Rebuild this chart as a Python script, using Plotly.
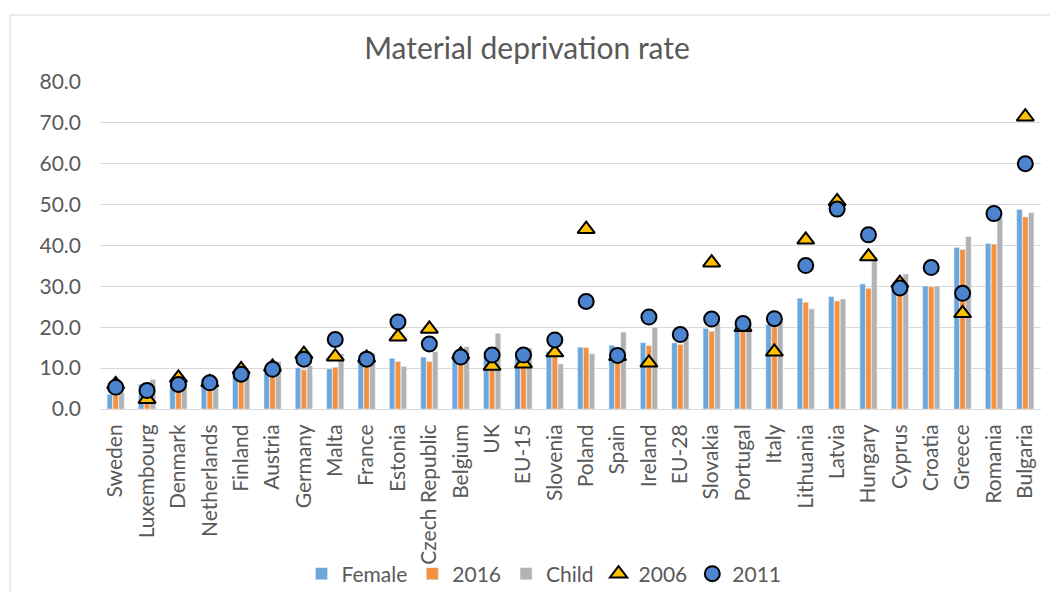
import plotly.graph_objects as go

countries = ["Sweden", "Luxembourg", "Denmark", "Netherlands", "Finland", "Austria", "Germany",
             "Malta", "France", "Estonia", "Czech Republic", "Belgium", "UK", "EU-15", "Slovenia",
             "Poland", "Spain", "Ireland", "EU-28", "Slovakia", "Portugal", "Italy", "Lithuania",
             "Latvia", "Hungary", "Cyprus", "Croatia", "Greece", "Romania", "Bulgaria"]

female = [3.6, 6.1, 6.7, 7.4, 8.4, 8.8, 10.1, 9.8, 11.6, 12.4, 12.7, 12.9, 12.7, 13.3, 14.0,
          15.1, 15.6, 16.2, 16.2, 19.7, 20.1, 20.7, 27.1, 27.5, 30.6, 29.0, 30.1, 39.5, 40.5, 48.8]

total_2016 = [3.3, 5.8, 6.4, 7.0, 8.0, 8.6, 9.6, 10.2, 10.4, 11.6, 11.6, 12.5, 12.3, 12.9, 13.8,
              15.0, 14.8, 15.5, 15.8, 19.0, 19.5, 20.1, 26.1, 26.4, 29.5, 28.6, 29.9, 39.0, 40.3, 47.0]

child = [4.0, 7.2, 6.9, 7.4, 8.8, 11.6, 10.6, 13.5, 13.7, 10.4, 14.0, 15.2, 18.5, 14.9, 11.0,
         13.5, 18.8, 20.0, 17.6, 21.0, 20.6, 21.5, 24.5, 26.9, 37.2, 33.0, 30.1, 42.2, 46.7, 48.0]

rate_2006 = [6.0, 2.4, 7.6, 6.5, 9.7, 10.3, 13.4, 12.8, 12.5, 17.7, 19.6, 13.3, 10.5, 11.1, 13.8,
             44.0, 12.9, 11.3, None, 35.8, 20.0, 14.0, 41.4, 50.8, 37.3, 30.8, None, 23.4, None, 71.5]

rate_2011 = [5.3, 4.5, 6.0, 6.4, 8.5, 9.7, 12.2, 17.0, 12.2, 21.3, 15.9, 12.7, 13.2, 13.2, 16.9,
             26.3, 13.1, 22.5, 18.2, 22.0, 20.9, 22.1, 35.1, 48.9, 42.6, 29.6, 34.6, 28.3, 47.8, 60.0]

y_ticks = [0, 10, 20, 30, 40, 50, 60, 70, 80]

FONT = "Lato, 'Open Sans', sans-serif"
TXT = "#595959"

fig = go.Figure()
fig.add_trace(go.Bar(name="Female", x=countries, y=female, marker_color="#6CA6DA"))
fig.add_trace(go.Bar(name="2016", x=countries, y=total_2016, marker_color="#F5913E"))
fig.add_trace(go.Bar(name="Child", x=countries, y=child, marker_color="#B2B2B2"))
fig.add_trace(go.Scatter(name="2006", x=countries, y=rate_2006, mode="markers",
                         marker=dict(symbol="triangle-up", size=15, color="#FFC000",
                                     line=dict(color="#000000", width=2))))
fig.add_trace(go.Scatter(name="2011", x=countries, y=rate_2011, mode="markers",
                         marker=dict(symbol="circle", size=15, color="#4D84D0",
                                     line=dict(color="#000000", width=2))))

# figure is offset by the page's 8px body margin; work in figure pixels
W, H = 1050, 584
L, R, T, B = 92, 17, 74, 183
pw, ph = W - L - R, H - T - B

def px_x(p):
    return (p - L) / pw

def px_y(p):
    return (H - B - p) / ph

fig.update_layout(
    width=W, height=H,
    margin=dict(l=L, r=R, t=T, b=B, autoexpand=False),
    paper_bgcolor="white", plot_bgcolor="white",
    font=dict(family=FONT, size=21, color=TXT),
    title=dict(text="Material deprivation rate", x=519 / W, xanchor="center",
               xref="container",
               y=1 - 40 / H, yanchor="middle",
               font=dict(family=FONT, size=30, color=TXT)),
    barmode="group", bargap=0.44, bargroupgap=0.08,
    showlegend=True,
    legend=dict(orientation="h", x=px_x(536), xanchor="center", y=px_y(566), yanchor="middle",
                font=dict(family=FONT, size=21, color=TXT), itemwidth=30,
                bgcolor="rgba(0,0,0,0)"),
    xaxis=dict(range=[-0.5, len(countries) - 0.5], autorange=False, automargin=False,
               showgrid=False, showline=True, linecolor="#D9D9D9", linewidth=1,
               tickangle=-90, ticks="", ticklabelstandoff=6,
               tickfont=dict(family=FONT, size=21, color=TXT)),
    yaxis=dict(range=[0, 80], tickvals=y_ticks, tickformat=".1f", showgrid=True,
               automargin=False,
               gridcolor="#D9D9D9", gridwidth=1, zeroline=False, showline=False,
               ticks="", ticklabelstandoff=18,
               tickfont=dict(family=FONT, size=21, color=TXT)),
    shapes=[dict(type="rect", xref="paper", yref="paper",
                 x0=px_x(2), x1=px_x(1080), y0=px_y(7), y1=px_y(620),
                 line=dict(color="#D9D9D9", width=1), fillcolor="rgba(0,0,0,0)",
                 layer="below")],
)

fig.write_html("out.html")
